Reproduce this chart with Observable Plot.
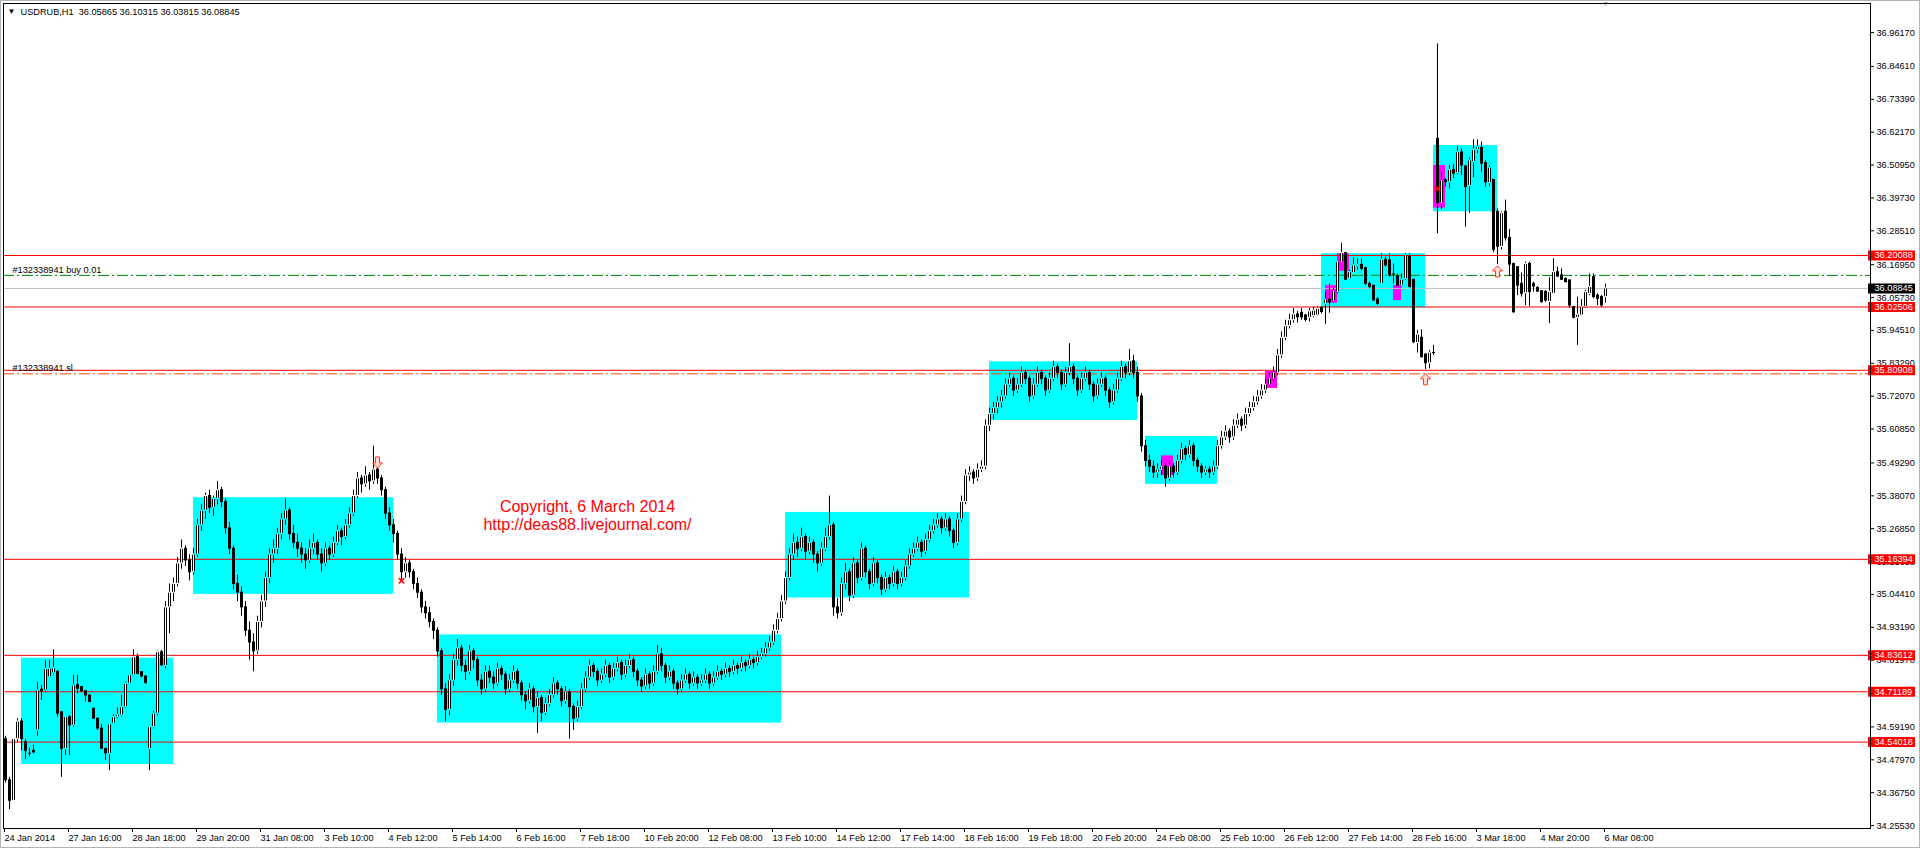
<!DOCTYPE html>
<html><head><meta charset="utf-8">
<script src="https://cdn.jsdelivr.net/npm/d3@7"></script>
<script src="https://cdn.jsdelivr.net/npm/@observablehq/plot@0.6"></script>
<style>
html,body{margin:0;padding:0;background:#fff;overflow:hidden;}
#chart svg{display:block;}
</style></head><body><div id="chart"></div>
<script>
// USDRUB hourly candles, 24 Jan – 6 Mar 2014
const symbol = "USDRUB,H1";
const barsPerLabel = 16;
const timeLabels = ["24 Jan 2014","27 Jan 16:00","28 Jan 18:00","29 Jan 20:00","31 Jan 08:00","3 Feb 10:00",
  "4 Feb 12:00","5 Feb 14:00","6 Feb 16:00","7 Feb 18:00","10 Feb 20:00","12 Feb 08:00","13 Feb 10:00",
  "14 Feb 12:00","17 Feb 14:00","18 Feb 16:00","19 Feb 18:00","20 Feb 20:00","24 Feb 08:00","25 Feb 10:00",
  "26 Feb 12:00","27 Feb 14:00","28 Feb 16:00","3 Mar 18:00","4 Mar 20:00","6 Mar 08:00"];
const priceTicks = [36.9617,36.8461,36.7339,36.6217,36.5095,36.3973,36.2851,36.1695,36.0573,35.9451,35.8329,
  35.7207,35.6085,35.4929,35.3807,35.2685,35.1563,35.0441,34.9319,34.8197,34.7075,34.5919,34.4797,34.3675,34.2553];

// [open, high, low, close] — 24 Jan to 29 Jan
const candlesJan = [
[34.55,34.56,34.40,34.41],[34.41,34.42,34.31,34.34],[34.34,34.55,34.34,34.55],[34.55,34.62,34.54,34.61],
[34.61,34.62,34.51,34.55],[34.54,34.55,34.48,34.51],[34.50,34.52,34.49,34.50],[34.51,34.53,34.50,34.505],
[34.58,34.745,34.56,34.716],[34.719,34.733,34.682,34.714],[34.716,34.819,34.71,34.79],[34.762,34.819,34.76,34.79],
[34.775,34.855,34.77,34.792],[34.779,34.785,34.625,34.637],[34.642,34.645,34.42,34.517],[34.517,34.625,34.494,34.625],
[34.625,34.63,34.494,34.597],[34.597,34.768,34.59,34.733],[34.735,34.768,34.705,34.722],[34.728,34.73,34.71,34.714],
[34.714,34.716,34.677,34.699],[34.699,34.70,34.675,34.677],[34.654,34.656,34.62,34.62],[34.62,34.621,34.58,34.586],
[34.586,34.60,34.517,34.517],[34.517,34.518,34.477,34.502],[34.50,34.60,34.443,34.60],[34.603,34.633,34.60,34.625],
[34.625,34.657,34.62,34.633],[34.631,34.70,34.625,34.659],[34.659,34.745,34.655,34.739],[34.739,34.77,34.735,34.768],
[34.768,34.856,34.765,34.83],[34.83,34.841,34.77,34.773],[34.779,34.78,34.76,34.764],[34.764,34.765,34.74,34.741],
[34.517,34.59,34.443,34.591],[34.591,34.645,34.585,34.637],[34.637,34.85,34.63,34.847],[34.847,34.853,34.80,34.802],
[34.80,35.02,34.79,35.0],[35.0,35.08,34.91,35.05]];

// 30 Jan to 5 Feb
const candlesFeb1 = [
[35.05,35.10,35.02,35.08],[35.08,35.17,35.07,35.15],[35.15,35.23,35.13,35.20],[35.20,35.21,35.14,35.16],
[35.16,35.18,35.09,35.12],[35.12,35.20,35.11,35.18],[35.18,35.30,35.17,35.28],[35.28,35.35,35.26,35.33],
[35.33,35.39,35.30,35.38],[35.38,35.40,35.32,35.34],[35.34,35.38,35.31,35.37],[35.37,35.43,35.35,35.40],
[35.40,35.41,35.34,35.36],[35.36,35.37,35.25,35.27],[35.27,35.29,35.18,35.20],[35.20,35.21,35.06,35.08],
[35.08,35.11,35.02,35.05],[35.05,35.07,34.97,35.00],[35.00,35.02,34.90,34.92],[34.92,34.95,34.82,34.88],
[34.88,34.91,34.78,34.85],[34.85,34.97,34.84,34.95],[34.95,35.04,34.93,35.02],[35.02,35.12,35.00,35.10],
[35.10,35.20,35.08,35.18],[35.18,35.23,35.15,35.20],[35.20,35.27,35.18,35.25],[35.25,35.32,35.23,35.30],
[35.30,35.37,35.28,35.33],[35.33,35.34,35.23,35.25],[35.25,35.28,35.20,35.22],[35.22,35.25,35.17,35.20],
[35.20,35.22,35.15,35.18],[35.18,35.20,35.13,35.16],[35.16,35.23,35.15,35.20],[35.20,35.25,35.18,35.22],
[35.22,35.23,35.16,35.18],[35.18,35.20,35.12,35.15],[35.15,35.22,35.14,35.20],[35.20,35.21,35.16,35.18],
[35.18,35.24,35.17,35.22],[35.22,35.28,35.21,35.26],[35.26,35.27,35.21,35.24],[35.24,35.30,35.23,35.28],
[35.28,35.34,35.27,35.32],[35.32,35.40,35.31,35.38],[35.38,35.46,35.37,35.44],[35.44,35.45,35.39,35.42],
[35.42,35.48,35.41,35.45],[35.45,35.46,35.40,35.43],[35.43,35.55,35.42,35.47],[35.47,35.49,35.42,35.44],
[35.44,35.45,35.38,35.40],[35.40,35.41,35.30,35.32],[35.32,35.34,35.26,35.28],[35.28,35.30,35.22,35.25],
[35.25,35.26,35.16,35.18],[35.18,35.20,35.09,35.12],[35.12,35.17,35.10,35.15],[35.15,35.16,35.10,35.12],
[35.12,35.13,35.06,35.08],[35.08,35.10,35.03,35.05],[35.05,35.06,34.98,35.00],[35.00,35.02,34.96,34.98],
[34.98,35.00,34.93,34.95],[34.95,34.96,34.89,34.92],[34.92,34.93,34.83,34.85],[34.85,34.86,34.70,34.72],
[34.72,34.74,34.61,34.65]];

// 5 Feb to 13 Feb
const candlesFeb2 = [
[34.65,34.77,34.63,34.75],[34.75,34.84,34.73,34.82],[34.82,34.89,34.80,34.86],[34.86,34.87,34.78,34.80],
[34.80,34.82,34.75,34.78],[34.78,34.87,34.77,34.85],[34.85,34.86,34.79,34.82],[34.82,34.83,34.73,34.75],
[34.75,34.77,34.70,34.72],[34.72,34.80,34.71,34.78],[34.78,34.80,34.74,34.76],[34.76,34.78,34.72,34.74],
[34.74,34.81,34.73,34.79],[34.79,34.80,34.75,34.77],[34.77,34.78,34.70,34.72],[34.72,34.77,34.71,34.75],
[34.75,34.80,34.74,34.78],[34.78,34.79,34.72,34.74],[34.74,34.75,34.68,34.70],[34.70,34.71,34.65,34.68],
[34.68,34.74,34.67,34.72],[34.72,34.73,34.64,34.66],[34.66,34.71,34.57,34.69],[34.69,34.70,34.61,34.64],
[34.64,34.69,34.63,34.67],[34.67,34.72,34.66,34.70],[34.70,34.76,34.69,34.74],[34.74,34.75,34.70,34.72],
[34.72,34.73,34.66,34.68],[34.68,34.73,34.67,34.71],[34.71,34.72,34.55,34.66],[34.66,34.67,34.58,34.62],
[34.62,34.68,34.61,34.66],[34.66,34.74,34.65,34.72],[34.72,34.78,34.71,34.76],[34.76,34.82,34.75,34.80],
[34.80,34.81,34.76,34.78],[34.78,34.79,34.73,34.75],[34.75,34.79,34.74,34.77],[34.77,34.82,34.76,34.80],
[34.80,34.81,34.74,34.76],[34.76,34.81,34.75,34.79],[34.79,34.83,34.78,34.81],[34.81,34.82,34.75,34.77],
[34.77,34.82,34.76,34.80],[34.80,34.84,34.79,34.82],[34.82,34.83,34.76,34.78],[34.78,34.79,34.73,34.75],
[34.75,34.76,34.71,34.73],[34.73,34.79,34.72,34.77],[34.77,34.78,34.72,34.74],[34.74,34.80,34.73,34.78],
[34.78,34.87,34.77,34.84],[34.84,34.86,34.78,34.80],[34.80,34.81,34.74,34.76],[34.76,34.80,34.75,34.78],
[34.78,34.79,34.72,34.74],[34.74,34.75,34.70,34.72],[34.72,34.77,34.71,34.75],[34.75,34.79,34.74,34.77],
[34.77,34.78,34.72,34.74],[34.74,34.78,34.73,34.76],[34.76,34.77,34.72,34.74],[34.74,34.77,34.73,34.75],
[34.75,34.79,34.74,34.77],[34.77,34.78,34.72,34.74],[34.74,34.78,34.73,34.76],[34.76,34.80,34.75,34.78],
[34.78,34.79,34.75,34.77],[34.77,34.81,34.76,34.79],[34.79,34.80,34.76,34.78],[34.78,34.82,34.77,34.80],
[34.80,34.81,34.77,34.79],[34.79,34.83,34.78,34.81],[34.81,34.82,34.78,34.80],[34.80,34.84,34.79,34.82],
[34.82,34.83,34.79,34.81],[34.81,34.85,34.80,34.83],[34.83,34.86,34.82,34.84],[34.84,34.88,34.83,34.86],
[34.86,34.90,34.85,34.88],[34.88,34.94,34.87,34.92],[34.92,34.98,34.91,34.96],[34.96,35.04,34.95,35.02]];

// 13 Feb to 27 Feb
const candlesFeb3 = [
[35.02,35.12,35.01,35.10],[35.10,35.20,35.09,35.18],[35.18,35.25,35.16,35.22],[35.22,35.24,35.17,35.20],
[35.20,35.27,35.19,35.24],[35.24,35.25,35.16,35.19],[35.19,35.24,35.18,35.22],[35.22,35.23,35.15,35.18],
[35.18,35.19,35.12,35.15],[35.15,35.22,35.14,35.20],[35.20,35.27,35.19,35.24],[35.24,35.38,35.23,35.28],
[35.28,35.29,34.97,35.00],[35.00,35.03,34.96,34.98],[34.98,35.10,34.97,35.08],[35.08,35.15,35.06,35.12],
[35.12,35.13,35.02,35.04],[35.04,35.17,35.03,35.15],[35.15,35.16,35.08,35.10],[35.10,35.22,35.09,35.20],
[35.20,35.21,35.10,35.12],[35.12,35.13,35.06,35.08],[35.08,35.17,35.07,35.15],[35.15,35.16,35.08,35.10],
[35.10,35.11,35.04,35.06],[35.06,35.12,35.05,35.10],[35.10,35.11,35.06,35.08],[35.08,35.14,35.07,35.12],
[35.12,35.13,35.06,35.08],[35.08,35.12,35.07,35.10],[35.10,35.16,35.09,35.14],[35.14,35.20,35.13,35.18],
[35.18,35.22,35.17,35.20],[35.20,35.24,35.19,35.22],[35.22,35.23,35.17,35.19],[35.19,35.25,35.18,35.23],
[35.23,35.28,35.22,35.26],[35.26,35.30,35.25,35.28],[35.28,35.32,35.27,35.30],[35.30,35.31,35.25,35.27],
[35.27,35.32,35.26,35.30],[35.30,35.31,35.24,35.26],[35.26,35.27,35.20,35.22],[35.22,35.32,35.21,35.30],
[35.30,35.38,35.29,35.36],[35.36,35.47,35.35,35.45],[35.45,35.48,35.43,35.46],[35.46,35.47,35.42,35.44],
[35.44,35.49,35.43,35.47],[35.47,35.50,35.46,35.48],[35.48,35.64,35.47,35.62],[35.62,35.68,35.60,35.66],
[35.66,35.70,35.64,35.68],[35.68,35.72,35.66,35.70],[35.70,35.74,35.68,35.72],[35.72,35.78,35.71,35.76],
[35.76,35.80,35.75,35.78],[35.78,35.79,35.72,35.74],[35.74,35.78,35.73,35.76],[35.76,35.82,35.75,35.80],
[35.80,35.81,35.76,35.78],[35.78,35.79,35.70,35.72],[35.72,35.78,35.71,35.76],[35.76,35.82,35.75,35.80],
[35.80,35.81,35.76,35.78],[35.78,35.79,35.72,35.74],[35.74,35.80,35.73,35.78],[35.78,35.84,35.77,35.82],
[35.82,35.83,35.78,35.80],[35.80,35.81,35.74,35.76],[35.76,35.82,35.75,35.80],[35.80,35.90,35.79,35.82],
[35.82,35.83,35.76,35.78],[35.78,35.79,35.72,35.74],[35.74,35.80,35.73,35.78],[35.78,35.82,35.77,35.80],
[35.80,35.81,35.74,35.76],[35.76,35.77,35.70,35.72],[35.72,35.78,35.71,35.76],[35.76,35.80,35.75,35.78],
[35.78,35.79,35.72,35.74],[35.74,35.75,35.68,35.70],[35.70,35.76,35.69,35.74],[35.74,35.80,35.73,35.78],
[35.78,35.84,35.77,35.82],[35.82,35.83,35.78,35.80],[35.80,35.88,35.79,35.84],[35.84,35.86,35.78,35.80],
[35.80,35.82,35.70,35.72],[35.72,35.73,35.53,35.55],[35.55,35.57,35.48,35.50],[35.50,35.52,35.46,35.48],
[35.48,35.50,35.44,35.46],[35.46,35.49,35.44,35.47],[35.47,35.50,35.45,35.48],[35.48,35.49,35.41,35.44],
[35.44,35.50,35.43,35.48],[35.48,35.49,35.44,35.46],[35.46,35.52,35.45,35.50],[35.50,35.56,35.49,35.54],
[35.54,35.55,35.50,35.52],[35.52,35.57,35.51,35.55],[35.55,35.56,35.48,35.50],[35.50,35.51,35.46,35.48],
[35.48,35.49,35.44,35.46],[35.46,35.48,35.45,35.47],[35.47,35.48,35.44,35.46],[35.46,35.50,35.45,35.48],
[35.48,35.57,35.47,35.55],[35.55,35.60,35.54,35.58],[35.58,35.62,35.57,35.60],[35.60,35.61,35.56,35.58],
[35.58,35.64,35.57,35.62],[35.62,35.66,35.61,35.64],[35.64,35.65,35.60,35.62],[35.62,35.68,35.61,35.66],
[35.66,35.70,35.65,35.68],[35.68,35.72,35.67,35.70],[35.70,35.74,35.69,35.72],[35.72,35.76,35.71,35.74],
[35.74,35.78,35.73,35.76],[35.76,35.80,35.75,35.78],[35.78,35.82,35.77,35.80],[35.80,35.88,35.79,35.86],
[35.86,35.94,35.85,35.92],[35.92,35.98,35.91,35.96],[35.96,36.00,35.95,35.98],[35.98,36.02,35.97,36.00],
[36.00,36.01,35.97,35.99]];

// 27 Feb to 6 Mar
const candlesMar = [
[36.005,36.02,35.98,35.99],[35.996,36.0,35.974,35.981],[35.988,36.02,35.974,36.01],[35.994,36.025,35.988,36.013],
[35.996,36.025,35.993,36.019],[36.022,36.026,36.002,36.008],[36.036,36.076,35.965,36.05],[36.05,36.104,36.004,36.041],
[36.045,36.09,36.041,36.078],[36.076,36.178,36.07,36.178],[36.178,36.243,36.178,36.209],[36.209,36.209,36.116,36.118],
[36.121,36.15,36.118,36.144],[36.141,36.193,36.141,36.167],[36.164,36.19,36.15,36.169],[36.169,36.19,36.15,36.155],
[36.158,36.158,36.098,36.104],[36.104,36.11,36.087,36.093],[36.098,36.098,36.047,36.047],[36.05,36.058,36.03,36.036],
[36.104,36.207,36.102,36.186],[36.186,36.195,36.161,36.167],[36.184,36.207,36.127,36.133],[36.136,36.172,36.104,36.136],
[36.13,36.138,36.095,36.098],[36.098,36.138,36.093,36.118],[36.121,36.207,36.116,36.201],[36.198,36.207,36.091,36.093],
[36.118,36.118,35.90,35.905],[35.902,35.945,35.868,35.931],[35.92,35.947,35.851,35.854],[35.863,35.863,35.811,35.833],
[35.833,35.877,35.814,35.869],[35.868,35.894,35.86,35.868],
[36.599,36.923,36.275,36.38],[36.38,36.485,36.357,36.455],[36.457,36.463,36.434,36.452],[36.451,36.508,36.428,36.493],
[36.493,36.511,36.463,36.48],[36.482,36.573,36.477,36.553],[36.553,36.565,36.474,36.508],[36.505,36.505,36.297,36.434],
[36.438,36.534,36.345,36.525],[36.52,36.596,36.466,36.562],[36.562,36.596,36.548,36.571],[36.568,36.588,36.485,36.514],
[36.516,36.525,36.434,36.451],[36.448,36.508,36.436,36.50],
[36.459,36.46,36.21,36.22],[36.35,36.36,36.17,36.23],[36.23,36.35,36.22,36.345],[36.35,36.39,36.25,36.26],
[36.26,36.29,36.13,36.17],
[36.172,36.175,36.004,36.007],[36.161,36.161,36.064,36.098],[36.104,36.141,36.059,36.07],[36.072,36.178,36.03,36.172],
[36.172,36.178,36.027,36.076],[36.104,36.11,36.076,36.095],[36.09,36.095,36.075,36.078],[36.079,36.081,36.038,36.042],
[36.076,36.081,36.041,36.047],[36.042,36.125,35.968,36.076],[36.07,36.19,36.07,36.144],[36.144,36.161,36.127,36.129],
[36.133,36.155,36.116,36.118],[36.121,36.125,36.108,36.11],[36.116,36.116,36.022,36.03],[36.025,36.025,35.985,35.988],
[35.988,36.059,35.894,35.999],[35.996,36.05,35.995,36.025],[36.025,36.082,36.02,36.076],[36.07,36.138,36.064,36.093],
[36.127,36.138,36.053,36.059],[36.064,36.07,36.03,36.053],[36.059,36.065,36.025,36.03],[36.05865,36.10315,36.03815,36.08845]];

// horizontal support / resistance levels
const levels = [36.20088, 36.02506, 35.80908, 35.16394, 34.83612, 34.71189, 34.54018];
const bid = 36.08845;
const order = {ticket: "#132338941", type: "buy", lots: 0.01, open: 36.1330, sl: 35.7970};

// consolidation zones: bar range and price range
const zones = [
  {from: 4, to: 42, low: 34.4636, high: 34.8265},
  {from: 47, to: 97, low: 35.0442, high: 35.3743},
  {from: 108, to: 194, low: 34.605, high: 34.906},
  {from: 195, to: 241, low: 35.032, high: 35.324},
  {from: 246, to: 283, low: 35.638, high: 35.838},
  {from: 285, to: 303, low: 35.420, high: 35.583},
  {from: 329, to: 355, low: 36.022, high: 36.207},
  {from: 357, to: 373, low: 36.350, high: 36.576}];
const highlights = [
  {from: 289, to: 292, low: 35.450, high: 35.517},
  {from: 315, to: 318, low: 35.747, high: 35.805},
  {from: 330, to: 333, low: 36.038, high: 36.098},
  {from: 333, to: 336, low: 36.147, high: 36.207},
  {from: 347, to: 349, low: 36.047, high: 36.098},
  {from: 357, to: 360, low: 36.363, high: 36.508}];
const arrowsUp = [{i: 355, price: 35.799}, {i: 373, price: 36.167}];
const arrowsDown = [{i: 93, price: 35.474}];
const crosses = [{i: 99, price: 35.09}, {i: 358, price: 36.43}];
const notes = [{i: 145.5, price: 35.313, text: "Copyright, 6 March 2014\nhttp://deas88.livejournal.com/"}];

// assemble candle records
const candles = [...candlesJan, ...candlesFeb1, ...candlesFeb2, ...candlesFeb3, ...candlesMar]
  .map(([open, high, low, close], i) => ({i, open, high, low, close}));
const rising = candles.filter(d => d.close - d.open > 0.004);
const last = candles[candles.length - 1];

// hollow block arrow used for trade signals (dir 1 = up, -1 = down)
const blockArrow = (dir) => ({
  draw(context, size) {
    const s = Math.sqrt(size / Math.PI) / 5.5;
    const pts = [[0, -5.5], [5, -0.5], [2, -0.5], [2, 5.5], [-2, 5.5], [-2, -0.5], [-5, -0.5]];
    pts.forEach(([px, py], k) => k ? context.lineTo(px * s, py * s * dir) : context.moveTo(px * s, py * s * dir));
    context.closePath();
  }
});

const font = "'Liberation Sans', Arial, sans-serif";
const fs = 9.2;
const dash = "11,3,2,3";

const chart = Plot.plot({
  width: 1920, height: 848,
  marginLeft: 3, marginRight: 50, marginTop: 3, marginBottom: 20,
  x: {domain: [-0.5, 466.25]},
  y: {domain: [36.20088 - 573 / 293, 36.20088 + 252 / 293]},
  style: {fontFamily: font, fontSize: fs + "px", background: "white", color: "black"},
  marks: [
    Plot.frame({insetLeft: -3, insetTop: -3, insetRight: -49, insetBottom: -19, stroke: "#b4b4b4"}),
    Plot.rect(zones, {x1: "from", x2: "to", y1: "low", y2: "high", fill: "#00ffff"}),
    Plot.rect(highlights, {x1: "from", x2: "to", y1: "low", y2: "high", fill: "#ff00ff"}),
    Plot.ruleY(levels, {stroke: "#ff0000"}),
    Plot.ruleY([bid], {stroke: "#c0c0c0"}),
    Plot.ruleY([order.open], {stroke: "#008000", strokeDasharray: dash}),
    Plot.ruleY([order.sl], {stroke: "#ff4500", strokeDasharray: dash}),
    // candles: wick, body outline, hollow interior for rising bars
    Plot.ruleX(candles, {x: "i", y1: "low", y2: "high", stroke: "black"}),
    Plot.ruleX(candles, {x: "i", y1: "open", y2: "close", stroke: "black", strokeWidth: 3, insetTop: -0.5, insetBottom: -0.5}),
    Plot.ruleX(rising, {x: "i", y1: "open", y2: "close", stroke: "white", strokeWidth: 1, insetTop: 0.5, insetBottom: 0.5}),
    Plot.dot(arrowsUp, {x: "i", y: "price", symbol: blockArrow(1), r: 5.5, dy: 6, fill: "#ffd9cf", stroke: "#ff3a1a", strokeWidth: 1}),
    Plot.dot(arrowsDown, {x: "i", y: "price", symbol: blockArrow(-1), r: 5.5, dy: -6, fill: "#ffd9cf", stroke: "#ff3a1a", strokeWidth: 1}),
    Plot.text(crosses, {x: "i", y: "price", text: () => "\u00d7", fill: "#ff0000", fontSize: 13, fontWeight: "bold"}),
    Plot.text(notes, {x: "i", y: "price", text: "text", fill: "#ff0000", fontSize: 16, lineHeight: 1.1, fontFamily: font}),
    // order labels
    Plot.text([order.open], {y: d => d, frameAnchor: "left", dx: 9, dy: -2, lineAnchor: "bottom", textAnchor: "start",
      text: () => `${order.ticket} ${order.type} ${order.lots.toFixed(2)}`}),
    Plot.text([order.sl], {y: d => d, frameAnchor: "left", dx: 9, dy: -3, lineAnchor: "bottom", textAnchor: "start",
      text: () => `${order.ticket} sl`}),
    // header
    Plot.text([last], {frameAnchor: "top-left", dx: 4, dy: 5, lineAnchor: "top", textAnchor: "start", fontSize: 8, text: () => "\u25bc"}),
    Plot.text([last], {frameAnchor: "top-left", dx: 17, dy: 5, lineAnchor: "top", textAnchor: "start",
      text: d => `${symbol}\u00a0\u00a0${d.open.toFixed(5)} ${d.high.toFixed(5)} ${d.low.toFixed(5)} ${d.close.toFixed(5)}`}),
    Plot.text([last], {x: "i", frameAnchor: "top", dy: -2, lineAnchor: "top", fill: "#a0a0a0", fontSize: 7, text: () => "\u25bc"}),
    // axes
    Plot.axisY(priceTicks, {anchor: "right", tickSize: 3, tickPadding: 3, tickFormat: d => d.toFixed(5), label: null}),
    Plot.axisX(d3.range(0, timeLabels.length * barsPerLabel, barsPerLabel), {anchor: "bottom", tickSize: 4, tickPadding: 2,
      textAnchor: "start", dx: -1, tickFormat: i => timeLabels[i / barsPerLabel], label: null}),
    // price tags on the right scale
    Plot.ruleY(levels, {stroke: "#ff0000", strokeWidth: 10, insetLeft: 1865, insetRight: -45}),
    Plot.text(levels, {y: d => d, frameAnchor: "right", dx: 4, textAnchor: "start", fill: "white", text: d => d.toFixed(5)}),
    Plot.ruleY([bid], {stroke: "black", strokeWidth: 10, insetLeft: 1865, insetRight: -45}),
    Plot.text([bid], {y: d => d, frameAnchor: "right", dx: 4, textAnchor: "start", fill: "white", text: d => d.toFixed(5)}),
    Plot.frame({stroke: "black"})
  ]
});
document.getElementById("chart").append(chart);
</script></body></html>
